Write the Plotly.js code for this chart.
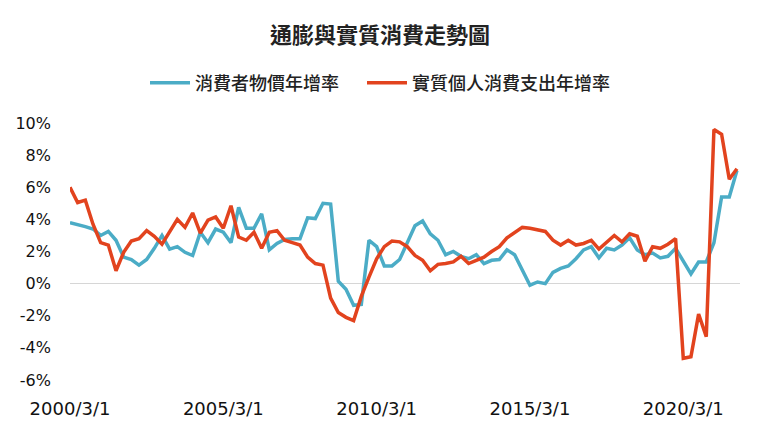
<!DOCTYPE html>
<html>
<head>
<meta charset="utf-8">
<script src="https://cdn.plot.ly/plotly-3.0.1.min.js"></script>
<style>
  html, body { margin: 0; padding: 0; background: #fff; }
  #graph { width: 760px; height: 430px; }
</style>
</head>
<body>
<div id="graph"></div>
<script>
"use strict";

// 季資料 2000/3/1 ~ 2021/12/1
const firstYear = 2000;
const lastYear = 2021;
const quarterMonths = [3, 6, 9, 12];

// 消費者物價年增率 (%)
const cpiYoY = [
    3.8, 3.7, 3.55, 3.4, 3.0, 3.25, 2.7, 1.65, 1.5, 1.15,
    1.5, 2.2, 3.0, 2.15, 2.3, 1.95, 1.75, 3.2, 2.55, 3.4,
    3.2, 2.55, 4.75, 3.45, 3.45, 4.35, 2.1, 2.5, 2.75, 2.8,
    2.8, 4.1, 4.05, 5.0, 4.95, 0.15, -0.35, -1.35, -1.3, 2.7,
    2.3, 1.1, 1.1, 1.5, 2.6, 3.6, 3.9, 3.1, 2.7, 1.8,
    2.0, 1.7, 1.55, 1.8, 1.25, 1.45, 1.5, 2.1, 1.8, 0.9,
    -0.1, 0.1, 0.0, 0.7, 0.95, 1.1, 1.55, 2.1, 2.3, 1.6,
    2.2, 2.1, 2.4, 2.85, 2.1, 1.8, 1.9, 1.6, 1.7, 2.2,
    1.4, 0.6, 1.35, 1.35, 2.55, 5.4, 5.4, 7.05
];

// 實質個人消費支出年增率 (%)
const realPceYoY = [
    6.0, 5.05, 5.2, 3.7, 2.55, 2.4, 0.8, 1.95, 2.65, 2.8,
    3.3, 2.95, 2.45, 3.25, 4.0, 3.5, 4.4, 3.15, 3.95, 4.15,
    3.45, 4.85, 2.9, 2.7, 3.2, 2.2, 3.2, 3.3, 2.7, 2.55,
    2.4, 1.65, 1.25, 1.15, -0.9, -1.8, -2.1, -2.3, -0.8, 0.4,
    1.55, 2.3, 2.65, 2.6, 2.3, 1.75, 1.45, 0.8, 1.2, 1.25,
    1.35, 1.7, 1.25, 1.45, 1.65, 2.0, 2.3, 2.85, 3.15, 3.5,
    3.45, 3.35, 3.25, 2.7, 2.4, 2.7, 2.4, 2.5, 2.7, 2.15,
    2.55, 3.0, 2.6, 3.1, 2.95, 1.4, 2.3, 2.2, 2.45, 2.8,
    -4.65, -4.55, -1.9, -3.3, 9.6, 9.3, 6.5, 7.15
];

const xTickLabels = ['2000/3/1', '2005/3/1', '2010/3/1', '2015/3/1', '2020/3/1'];
const yTickVals = [-6, -4, -2, 0, 2, 4, 6, 8, 10];
const yRange = [-6.5, 10.5];

const dateLabels = [];
for (let y = firstYear; y <= lastYear; y++) {
    quarterMonths.forEach(m => dateLabels.push(`${y}/${m}/1`));
}

const cjkFont = '"Noto Sans CJK TC", "Noto Sans CJK SC", sans-serif';
const numFont = '"DejaVu Sans", sans-serif';

const traces = [
    {
        x: dateLabels, y: cpiYoY, type: 'scatter', mode: 'lines',
        // 全形空白撐開兩個圖例項目的間距
        name: '消費者物價年增率\u3000',
        line: { color: '#4bacc6', width: 3.5 }
    },
    {
        x: dateLabels, y: realPceYoY, type: 'scatter', mode: 'lines',
        name: '實質個人消費支出年增率',
        line: { color: '#e2431e', width: 3.5 }
    }
];

const zeroPos = (0 - yRange[0]) / (yRange[1] - yRange[0]);

const layout = {
    width: 760, height: 430,
    paper_bgcolor: '#ffffff', plot_bgcolor: '#ffffff',
    margin: { l: 70, r: 20, t: 115, b: 42 },
    title: {
        text: '通膨與實質消費走勢圖',
        font: { family: cjkFont, size: 22, color: '#222222', weight: 700 },
        x: 0.5, xref: 'container', xanchor: 'center',
        y: 1 - 35 / 430, yref: 'container', yanchor: 'middle'
    },
    showlegend: true,
    legend: {
        orientation: 'h',
        x: 0.5, xref: 'container', xanchor: 'center',
        y: 1 - 83 / 430, yref: 'container', yanchor: 'middle',
        font: { family: cjkFont, size: 18, color: '#222222', weight: 500 },
        itemwidth: 40
    },
    xaxis: {
        type: 'category',
        categoryorder: 'array', categoryarray: dateLabels,
        range: [0, dateLabels.length - 0.6],
        tickmode: 'array', tickvals: xTickLabels, ticktext: xTickLabels,
        showgrid: false, zeroline: false, showline: false, ticks: '',
        ticklabelstandoff: 8,
        tickfont: { family: numFont, size: 18, color: '#111111' }
    },
    xaxis2: {
        type: 'category', matches: 'x', overlaying: 'x',
        anchor: 'free', position: zeroPos,
        tickmode: 'array', tickvals: xTickLabels,
        showticklabels: false, showgrid: false, zeroline: false, showline: false,
        ticks: 'outside', ticklen: 4, tickwidth: 1, tickcolor: '#d0d0d0'
    },
    yaxis: {
        range: yRange,
        tickmode: 'array', tickvals: yTickVals,
        ticktext: yTickVals.map(v => `${v}%`),
        showgrid: false, showline: false, ticks: '',
        zeroline: true, zerolinecolor: '#d6d6d6', zerolinewidth: 1,
        ticklabelstandoff: 18,
        tickfont: { family: numFont, size: 16, color: '#111111' }
    }
};

Plotly.newPlot('graph', traces, layout, { staticPlot: true, displayModeBar: false }).catch(err => {
    console.error('圖表繪製失敗:', err);
});
</script>
</body>
</html>
